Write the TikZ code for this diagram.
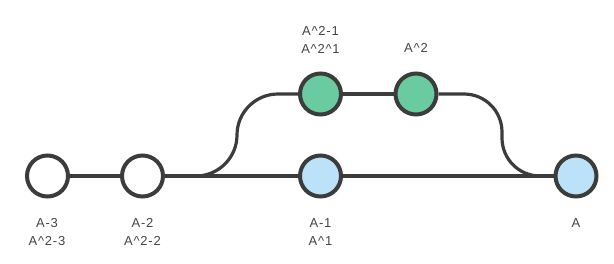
\documentclass[tikz,border=0pt]{standalone}
\usepackage{fontspec}
\setmainfont[LetterSpace=6]{Liberation Sans}
\definecolor{edge}{HTML}{3C3C3C}
\definecolor{txt}{HTML}{444444}
\definecolor{greenfill}{HTML}{6ACBA1}
\definecolor{bluefill}{HTML}{BCE2FA}
\pgfdeclarelayer{bg}
\pgfsetlayers{bg,main}
\begin{document}
\begin{tikzpicture}[x=1pt,y=-1pt,
  commit/.style={circle,draw=edge,line width=4pt,minimum size=41pt,inner sep=0pt},
  wcommit/.style={commit,fill=white},
  gcommit/.style={commit,fill=greenfill},
  bcommit/.style={commit,fill=bluefill},
  lbl/.style={text=txt,font=\fontsize{13}{18}\selectfont,align=center,inner sep=0pt},
  link/.style={draw=edge,line width=3.8pt},
  longlink/.style={draw=edge,line width=3.2pt},
  curve/.style={draw=edge,line width=3.2pt}]
\useasboundingbox (0,0) rectangle (614,263);
\node[wcommit] (n3) at (47.5,176) {};
\node[wcommit] (n2) at (142.5,176) {};
\node[bcommit] (n1) at (320.5,176) {};
\node[bcommit] (n0) at (576,176) {};
\node[gcommit] (g1) at (320.5,94) {};
\node[gcommit] (g2) at (416,94) {};
\begin{pgfonlayer}{bg}
\draw[curve] (n2.east) -- (196,176)
  .. controls (218.6,176) and (237,157.6) .. (237,135)
  .. controls (237,112.4) and (255.4,94) .. (278,94) -- (g1.west);
\draw[curve] (g2.east) -- (464,94)
  .. controls (485,94) and (502,111) .. (502,132) -- (502,138)
  .. controls (502,159) and (519,176) .. (540,176) -- (n0.west);
\draw[link] (n3) -- (n2);
\draw[link] (n2) -- (n1);
\draw[link] (g1) -- (g2);
\draw[longlink] (n1) -- (n0);
\end{pgfonlayer}
\node[lbl] (l3) at (47,232) {A-3\\A\^{}2-3};
\node[lbl] (l2) at (142.5,232) {A-2\\A\^{}2-2};
\node[lbl] (l1) at (320.5,232) {A-1\\A\^{}1};
\node[lbl,anchor=base] (l0) at (576,227.5) {A};
\node[lbl] (lg1) at (320.5,39.5) {A\^{}2-1\\A\^{}2\^{}1};
\node[lbl,anchor=base] (lg2) at (416,52.8) {A\^{}2};
\end{tikzpicture}
\end{document}
